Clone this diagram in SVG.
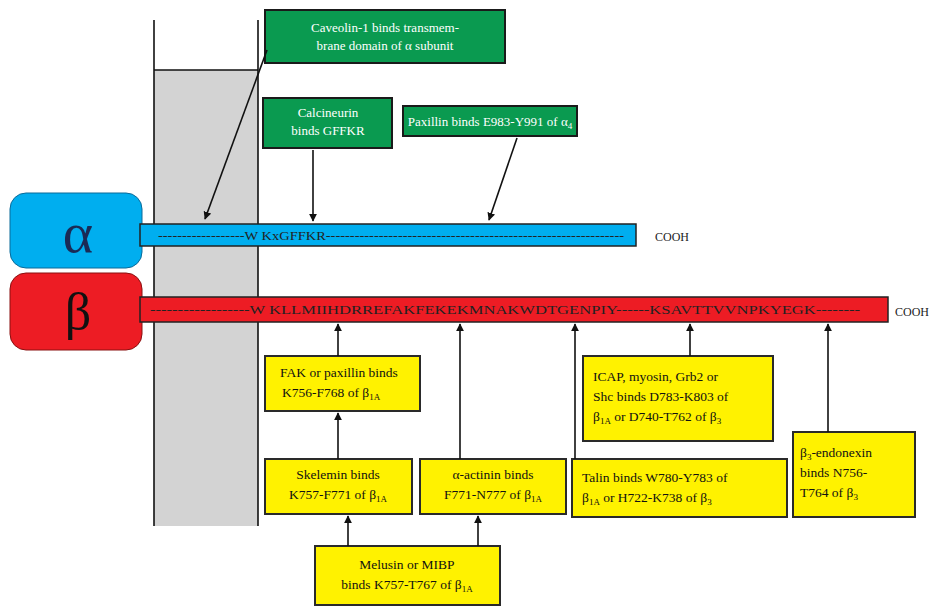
<svg xmlns="http://www.w3.org/2000/svg" width="942" height="607" viewBox="0 0 942 607">
<style>
.g{fill:#0a9a50;stroke:#1a1a1a;stroke-width:2}
.y{fill:#fff200;stroke:#2a2a2a;stroke-width:2}
.gt{font-family:"Liberation Serif",serif;font-size:13px;fill:#ffffff}
.yt{font-family:"Liberation Serif",serif;font-size:13.5px;fill:#111}
.seq{font-family:"Liberation Serif",serif;font-size:12.5px;fill:#222}
.cooh{font-family:"Liberation Serif",serif;font-size:12px;fill:#222}
.c{stroke:#111;stroke-width:1.6;fill:none}
.m{stroke:#111;stroke-width:1.6}
</style>
<defs>
<marker id="ah" viewBox="0 0 10 10" refX="9" refY="5" markerWidth="8" markerHeight="8" markerUnits="userSpaceOnUse" orient="auto">
<path d="M0,0 L10,5 L0,10 z" fill="#111"/>
</marker>
</defs>
<rect width="942" height="607" fill="#fff"/>
<g id="membrane">
<rect x="154" y="70" width="104" height="456" fill="#d3d3d3"/>
<line class="m" x1="154" y1="20" x2="154" y2="526"/>
<line class="m" x1="258" y1="20" x2="258" y2="526"/>
<line class="m" x1="154" y1="70" x2="258" y2="70"/>
</g>
<g id="alpha">
<rect x="10" y="193" width="132" height="75" rx="16" fill="#00aeef" stroke="#0a6a99" stroke-width="1"/>
<text x="78" y="252" font-family="Liberation Serif,serif" font-size="58" fill="#1a2a55" text-anchor="middle">α</text>
<rect x="140" y="224" width="496" height="22" fill="#00aeef" stroke="#222" stroke-width="1.5"/>
<text class="seq" x="158" y="240" textLength="466" lengthAdjust="spacingAndGlyphs">------------------W  KxGFFKR--------------------------------------------------------------</text>
<text class="cooh" x="655" y="241">COOH</text>
</g>
<g id="beta">
<rect x="10" y="273" width="132" height="77" rx="16" fill="#ed1c24" stroke="#8a1010" stroke-width="1"/>
<text x="78" y="329" font-family="Liberation Serif,serif" font-size="52" fill="#111" text-anchor="middle">β</text>
<rect x="140" y="297" width="748" height="25" fill="#ed1c24" stroke="#222" stroke-width="1.5"/>
<text class="seq" x="150" y="314" textLength="710" lengthAdjust="spacingAndGlyphs">------------------W  KLLMIIHDRREFAKFEKEKMNAKWDTGENPIY------KSAVTTVVNPKYEGK--------</text>
<text class="cooh" x="895" y="316">COOH</text>
</g>
<g id="caveolin">
<rect class="g" x="265" y="10" width="240" height="53"/>
<text class="gt" x="385" y="32" text-anchor="middle">Caveolin-1 binds transmem-</text>
<text class="gt" x="385" y="50" text-anchor="middle">brane domain of α subunit</text>
</g>
<g id="calcineurin">
<rect class="g" x="263" y="98" width="129" height="50"/>
<text class="gt" x="328" y="117" text-anchor="middle">Calcineurin</text>
<text class="gt" x="328" y="135" text-anchor="middle">binds GFFKR</text>
</g>
<g id="paxillin">
<rect class="g" x="403" y="106" width="174" height="30"/>
<text class="gt" x="490" y="126" text-anchor="middle">Paxillin binds E983-Y991 of α<tspan font-size="9" dy="3">4</tspan></text>
</g>
<g id="fak">
<rect class="y" x="265" y="356" width="155" height="55"/>
<text class="yt" x="280" y="377">FAK or paxillin binds</text>
<text class="yt" x="282" y="397">K756-F768 of β<tspan font-size="9" dy="3">1A</tspan></text>
</g>
<g id="icap">
<rect class="y" x="583" y="356" width="190" height="85"/>
<text class="yt" x="593" y="381">ICAP, myosin, Grb2 or</text>
<text class="yt" x="593" y="401">Shc binds D783-K803 of</text>
<text class="yt" x="593" y="421">β<tspan font-size="9" dy="3">1A</tspan><tspan dy="-3"> or D740-T762 of β</tspan><tspan font-size="9" dy="3">3</tspan></text>
</g>
<g id="skelemin">
<rect class="y" x="265" y="459" width="147" height="55"/>
<text class="yt" x="338" y="479" text-anchor="middle">Skelemin binds</text>
<text class="yt" x="338" y="499" text-anchor="middle">K757-F771 of β<tspan font-size="9" dy="3">1A</tspan></text>
</g>
<g id="actinin">
<rect class="y" x="420" y="459" width="146" height="55"/>
<text class="yt" x="493" y="479" text-anchor="middle">α-actinin binds</text>
<text class="yt" x="493" y="499" text-anchor="middle">F771-N777 of β<tspan font-size="9" dy="3">1A</tspan></text>
</g>
<g id="talin">
<rect class="y" x="572" y="459" width="215" height="58"/>
<text class="yt" x="582" y="482">Talin binds W780-Y783 of</text>
<text class="yt" x="582" y="502">β<tspan font-size="9" dy="3">1A</tspan><tspan dy="-3"> or H722-K738 of β</tspan><tspan font-size="9" dy="3">3</tspan></text>
</g>
<g id="endonexin">
<rect class="y" x="793" y="432" width="122" height="85"/>
<text class="yt" x="800" y="457">β<tspan font-size="9" dy="3">3</tspan><tspan dy="-3">-endonexin</tspan></text>
<text class="yt" x="800" y="477">binds N756-</text>
<text class="yt" x="800" y="497">T764 of β<tspan font-size="9" dy="3">3</tspan></text>
</g>
<g id="melusin">
<rect class="y" x="315" y="546" width="185" height="59"/>
<text class="yt" x="407" y="569" text-anchor="middle">Melusin or MIBP</text>
<text class="yt" x="407" y="589" text-anchor="middle">binds K757-T767 of β<tspan font-size="9" dy="3">1A</tspan></text>
</g>
<g id="connectors">
<line class="c" x1="267" y1="50" x2="205" y2="219" marker-end="url(#ah)"/>
<line class="c" x1="313" y1="150" x2="313" y2="221" marker-end="url(#ah)"/>
<line class="c" x1="517" y1="138" x2="489" y2="220" marker-end="url(#ah)"/>
<line class="c" x1="338" y1="356" x2="338" y2="324" marker-end="url(#ah)"/>
<line class="c" x1="338" y1="459" x2="338" y2="413" marker-end="url(#ah)"/>
<line class="c" x1="348" y1="546" x2="348" y2="516" marker-end="url(#ah)"/>
<line class="c" x1="478" y1="546" x2="478" y2="516" marker-end="url(#ah)"/>
<line class="c" x1="460" y1="459" x2="460" y2="324" marker-end="url(#ah)"/>
<line class="c" x1="575" y1="459" x2="575" y2="324" marker-end="url(#ah)"/>
<line class="c" x1="690" y1="356" x2="690" y2="324" marker-end="url(#ah)"/>
<line class="c" x1="828" y1="432" x2="828" y2="324" marker-end="url(#ah)"/>
</g>
</svg>
